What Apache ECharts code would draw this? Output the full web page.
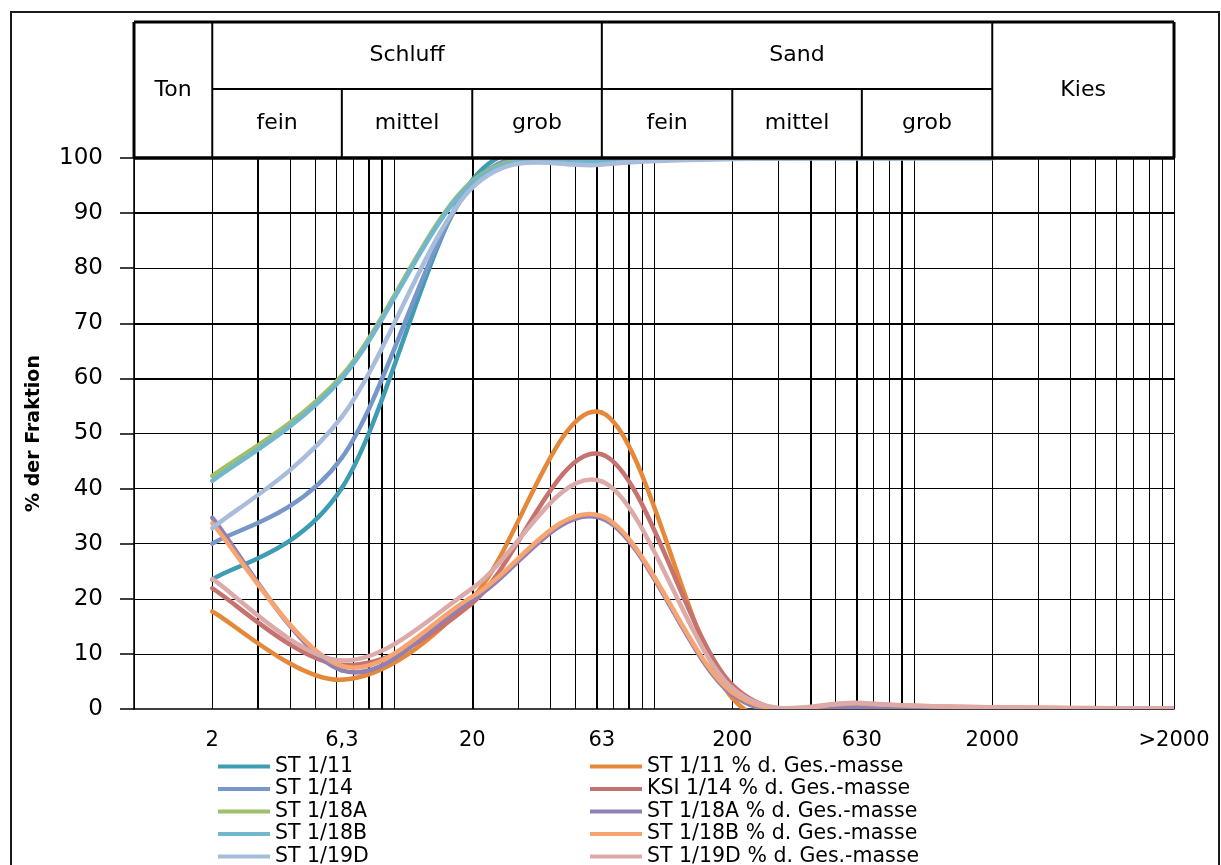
<!DOCTYPE html>
<html>
<head>
<meta charset="utf-8">
<script src="https://cdn.jsdelivr.net/npm/echarts@6/dist/echarts.min.js"></script>
<style>
  html, body { margin: 0; padding: 0; background: #fff; }
  #chart { width: 1221px; height: 865px; }
</style>
</head>
<body>
<div id="chart"></div>
<script>
// Grain sizes (µm) of the sieve/sedimentation classes; ">2000" is plotted at 10000
const sizeLabels = ['2', '6,3', '20', '63', '200', '630', '2000', '>2000'];
const grainSizes = [2, 6.3, 20, 63, 200, 630, 2000, 10000];

// Cumulative passing (%) at 2 … 2000 µm
const st111  = [23.5, 40.1, 96.0, 99.4, 99.9, 100, 100];
const st114  = [30.0, 45.6, 95.2, 99.2, 99.9, 100, 100];
const st118A = [42.3, 60.5, 95.8, 99.6, 100, 100, 100];
const st118B = [41.4, 60.0, 95.5, 99.5, 100, 100, 100];
const st119D = [32.8, 53.0, 94.6, 98.8, 99.8, 100, 100];

// Fraction share (% d. Ges.-masse) at 2 … >2000 µm
const st111p  = [17.7, 5.3, 20.1, 53.8, 2.0, 0.3, 0.2, 0.1];
const ksi114p = [21.9, 8.0, 19.2, 46.2, 4.4, 0.4, 0.2, 0.1];
const st118Ap = [34.7, 7.0, 19.8, 34.6, 2.6, 0.4, 0.2, 0.1];
const st118Bp = [33.7, 7.8, 20.4, 35.0, 3.0, 1.0, 0.3, 0.1];
const st119Dp = [23.6, 8.8, 21.9, 41.3, 3.8, 1.1, 0.3, 0.1];

const cumNames  = ['ST 1/11', 'ST 1/14', 'ST 1/18A', 'ST 1/18B', 'ST 1/19D'];
const fracNames = ['ST 1/11 % d. Ges.-masse', 'KSI 1/14 % d. Ges.-masse', 'ST 1/18A % d. Ges.-masse',
                   'ST 1/18B % d. Ges.-masse', 'ST 1/19D % d. Ges.-masse'];

// Soil classes (DIN 4022) as grain-size ranges
const mainClasses = [['Ton', 1, 2], ['Schluff', 2, 63], ['Sand', 63, 2000], ['Kies', 2000, 10000]];
const subClasses  = [['fein', 2, 6.3], ['mittel', 6.3, 20], ['grob', 20, 63],
                     ['fein', 63, 200], ['mittel', 200, 630], ['grob', 630, 2000]];

const yTicks = [0, 10, 20, 30, 40, 50, 60, 70, 80, 90, 100];

const FONT = '"DejaVu Sans", "Liberation Sans", Arial, sans-serif';

const colors = {
  'ST 1/11': '#3E9DB3', 'ST 1/14': '#7797C9', 'ST 1/18A': '#9FBF6A',
  'ST 1/18B': '#72B6CD', 'ST 1/19D': '#A8BDDB',
  'ST 1/11 % d. Ges.-masse': '#E6883A', 'KSI 1/14 % d. Ges.-masse': '#C6726F',
  'ST 1/18A % d. Ges.-masse': '#9180B4', 'ST 1/18B % d. Ges.-masse': '#F6A470',
  'ST 1/19D % d. Ges.-masse': '#DBAAA9'
};

function pairs(values) {
  return values.map((v, i) => [grainSizes[i], v]);
}

// Smoothed curve (Catmull-Rom style Bézier segments between neighbouring points)
function curve(name, values) {
  const color = colors[name];
  return {
    name: name,
    type: 'custom',
    data: pairs(values),
    encode: { x: 0, y: 1 },
    clip: true,
    z: 10,
    silent: true,
    animation: false,
    itemStyle: { color: color },
    renderItem: function (params, api) {
      const i = params.dataIndexInside;
      const n = params.dataInsideLength;
      if (i >= n - 1) return null;
      const pt = k => api.coord([api.value(0, k), api.value(1, k)]);
      const p0 = pt(Math.max(i - 1, 0));
      const p1 = pt(i);
      const p2 = pt(i + 1);
      const p3 = pt(Math.min(i + 2, n - 1));
      return {
        type: 'bezierCurve',
        shape: {
          x1: p1[0], y1: p1[1], x2: p2[0], y2: p2[1],
          cpx1: p1[0] + (p2[0] - p0[0]) / 6, cpy1: p1[1] + (p2[1] - p0[1]) / 6,
          cpx2: p2[0] - (p3[0] - p1[0]) / 6, cpy2: p2[1] - (p3[1] - p1[1]) / 6
        },
        style: { stroke: color, lineWidth: 4.5, fill: 'none', lineCap: 'round' }
      };
    }
  };
}

// Log grid: 1..9 × 10^n, a few drawn heavier
const vGrid = [];
[1, 10, 100, 1000].forEach(dec => {
  for (let k = 1; k <= 9; k++) vGrid.push(k * dec);
});
vGrid.push(10000);
const heavyV = [3, 8, 9, 20, 60, 80, 400, 600, 900];
const heavyH = [60, 70, 90];

const gridLines = [];
vGrid.forEach(v => gridLines.push({ xAxis: v, lineStyle: { width: heavyV.includes(v) ? 2 : 1 } }));
yTicks.forEach(v => { if (v > 0 && v < 100) gridLines.push({ yAxis: v, lineStyle: { width: heavyH.includes(v) ? 2 : 1 } }); });

const series = [
  {
    name: 'grid', type: 'line', data: [], silent: true, z: 1,
    markLine: {
      silent: true, symbol: 'none', animation: false, z: 1,
      label: { show: false },
      lineStyle: { color: '#000', type: 'solid', width: 1 },
      emphasis: { disabled: true },
      data: gridLines
    }
  },
  curve('ST 1/11', st111),
  curve('ST 1/11 % d. Ges.-masse', st111p),
  curve('ST 1/14', st114),
  curve('KSI 1/14 % d. Ges.-masse', ksi114p),
  curve('ST 1/18A', st118A),
  curve('ST 1/18A % d. Ges.-masse', st118Ap),
  curve('ST 1/18B', st118B),
  curve('ST 1/18B % d. Ges.-masse', st118Bp),
  curve('ST 1/19D', st119D),
  curve('ST 1/19D % d. Ges.-masse', st119Dp)
];

// Two-column legend: one legend entry per row and column
const legends = [];
function legendItem(name, left, row) {
  legends.push({
    data: [name],
    left: left,
    top: 756 + row * 22.5,
    icon: 'rect',
    itemWidth: 52,
    itemHeight: 4,
    padding: 0,
    selectedMode: false,
    textStyle: { fontFamily: FONT, fontSize: 20.5, color: '#000', lineHeight: 20 }
  });
}
cumNames.forEach((n, r) => legendItem(n, 218, r));
fracNames.forEach((n, r) => legendItem(n, 590, r));

const option = {
  backgroundColor: '#fff',
  animation: false,
  grid: { left: 134, right: 47, top: 158, bottom: 156 },
  xAxis: {
    type: 'log',
    logBase: 10,
    min: 1,
    max: 10000,
    axisLine: { show: true, lineStyle: { color: '#000', width: 1.5 } },
    axisTick: { show: false },
    splitLine: { show: false },
    minorSplitLine: { show: false },
    axisLabel: {
      customValues: grainSizes,
      formatter: v => {
        const i = grainSizes.findIndex(g => Math.abs(g - v) / g < 1e-6);
        return i >= 0 ? sizeLabels[i] : '';
      },
      margin: 21,
      fontFamily: FONT,
      fontSize: 21,
      color: '#000'
    }
  },
  yAxis: {
    type: 'value',
    min: 0,
    max: 100,
    interval: 10,
    name: '% der Fraktion',
    nameLocation: 'middle',
    nameRotate: 90,
    nameGap: 90,
    nameTextStyle: { fontFamily: FONT, fontSize: 19, fontWeight: 'bold', color: '#000' },
    axisLine: { show: true, lineStyle: { color: '#000', width: 1.5 } },
    axisTick: { show: true, length: 14, lineStyle: { color: '#000', width: 1.5 } },
    axisLabel: { margin: 31, fontFamily: FONT, fontSize: 23, color: '#000' },
    splitLine: { show: false }
  },
  legend: legends,
  series: series
};

const chart = echarts.init(document.getElementById('chart'), null, { renderer: 'canvas' });
chart.setOption(option);

// Header table with soil classes, placed through the x axis scale
const px = v => chart.convertToPixel({ xAxisIndex: 0 }, v);
const py = v => chart.convertToPixel({ yAxisIndex: 0 }, v);
const tTop = 22, tMid = 89, tBot = py(100);
const xL = px(1), xR = px(10000);

const g = [];
function line(x1, y1, x2, y2, w) {
  g.push({ type: 'line', z: 100, silent: true,
           shape: { x1: x1, y1: y1, x2: x2, y2: y2 },
           style: { stroke: '#000', lineWidth: w } });
}
function label(text, x, y) {
  g.push({ type: 'text', z: 101, silent: true,
           style: { text: text, x: x, y: y, align: 'center', verticalAlign: 'middle',
                    fill: '#000', font: '22px ' + FONT } });
}

// outer chart frame
g.push({ type: 'rect', z: 100, silent: true,
         shape: { x: 11, y: 12, width: 1208, height: 880 },
         style: { fill: 'none', stroke: '#1a1a1a', lineWidth: 2 } });

// table frame
line(xL, tTop, xR, tTop, 3);
line(xL, tBot, xR, tBot, 3.5);
line(xL, tTop, xL, tBot, 3);
line(xR, tTop, xR, tBot, 3);
// split between main and sub classes (Schluff, Sand)
line(px(2), tMid, px(2000), tMid, 2);

mainClasses.forEach(([name, a, b]) => {
  const xa = px(a), xb = px(b);
  if (a > 1) line(xa, tTop, xa, tBot, 2);
  const hasSub = subClasses.some(s => s[1] >= a && s[2] <= b);
  label(name, (xa + xb) / 2, hasSub ? (tTop + tMid) / 2 : (tTop + tBot) / 2);
});
subClasses.forEach(([name, a, b]) => {
  const xa = px(a), xb = px(b);
  if (!mainClasses.some(m => m[1] === a)) line(xa, tMid, xa, tBot, 2);
  label(name, (xa + xb) / 2, (tMid + tBot) / 2);
});

chart.setOption({ graphic: g });
</script>
</body>
</html>
